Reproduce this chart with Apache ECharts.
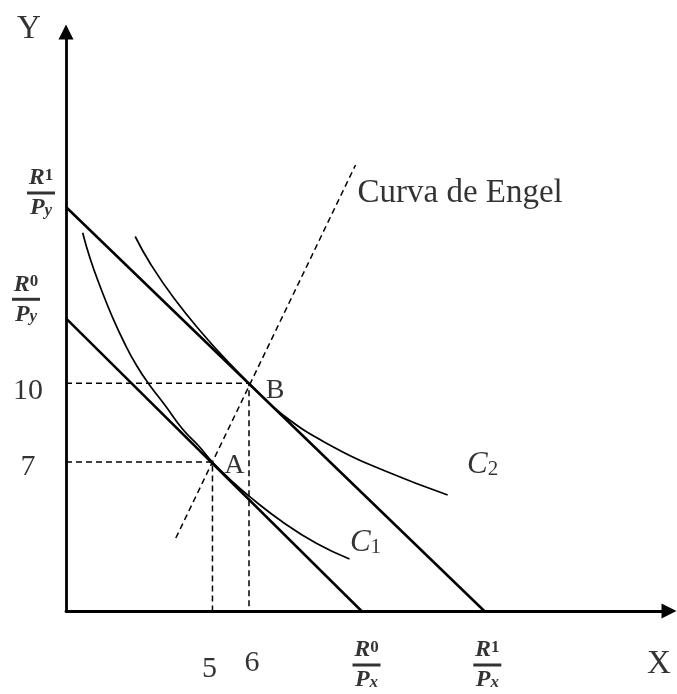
<!DOCTYPE html>
<html lang="es">
<head>
<meta charset="UTF-8">
<title>Curva de Engel</title>
<script src="https://cdn.jsdelivr.net/npm/echarts@6/dist/echarts.min.js"></script>
<style>
  html, body { margin: 0; padding: 0; background: #fff; }
  #main { width: 677px; height: 694px; }
</style>
</head>
<body>
<div id="main"></div>
<script>
  // unidades arbitrarias (1 unidad ~ 10 px), origen en la esquina de los ejes
  const budgetR0 = [[0, 29.27], [29.6, 0]];
  const budgetR1 = [[0, 40.4], [41.9, 0]];
  const engel = [[11.0, 7.3], [29.0, 44.6]];
  const pointA = [14.67, 14.9];
  const pointB = [18.33, 22.77];
  const curveC1 = [[1.67, 37.83], [2.4, 35.3], [3.4, 32.5], [4.6, 29.5], [5.9, 26.7], [7.1, 24.5],
                   [8.33, 22.65], [9.9, 20.6], [11.67, 18.2], [13.3, 16.5], [14.67, 14.9],
                   [16.5, 13.1], [18.4, 11.43], [21.7, 8.9], [25.07, 6.77], [28.4, 5.2]];
  const curveC2 = [[6.93, 37.45], [8.5, 34.65], [10.8, 31.3], [13.8, 27.6], [16.3, 24.85], [18.33, 22.77],
                   [21.73, 19.6], [26.73, 16.43], [31.73, 14.1], [38.23, 11.6]];
  const yTickLabels = ['10', '7'];   // en B y en A
  const xTickLabels = ['5', '6'];    // en A y en B
  const xMax = 60.4, yMax = 57.9;

  const chart = echarts.init(document.getElementById('main'));

  const serif = 'Liberation Serif';

  // fracción R/P con raya
  function fraction(sup, sub) {
    return {
      formatter: '{n|R}{sup|' + sup + '}\n{bar|}\n{d|P}{sub|' + sub + '}',
      rich: {
        n: { fontFamily: serif, fontSize: 24, fontWeight: 'bold', fontStyle: 'italic', lineHeight: 22, align: 'center', color: '#000' },
        sup: { fontFamily: serif, fontSize: 17, fontWeight: 'bold', lineHeight: 22, verticalAlign: 'top', align: 'center', color: '#000' },
        bar: { width: 28, height: 3, backgroundColor: '#000', lineHeight: 8, align: 'center' },
        d: { fontFamily: serif, fontSize: 24, fontWeight: 'bold', fontStyle: 'italic', lineHeight: 22, align: 'center', color: '#000' },
        sub: { fontFamily: serif, fontSize: 17, fontWeight: 'bold', fontStyle: 'italic', lineHeight: 22, verticalAlign: 'bottom', align: 'center', color: '#000' }
      }
    };
  }

  function plain(text, size) {
    return { formatter: text, fontFamily: serif, fontSize: size, color: '#000' };
  }

  function curveLabel(sub) {
    return {
      formatter: '{c|C}{s|' + sub + '}',
      rich: {
        c: { fontFamily: serif, fontSize: 31, fontStyle: 'italic', color: '#000', lineHeight: 30, verticalAlign: 'middle' },
        s: { fontFamily: serif, fontSize: 21, color: '#000', lineHeight: 30, verticalAlign: 'bottom' }
      }
    };
  }

  function tag(pt, label, offset) {
    return {
      value: pt,
      label: Object.assign({ show: true, position: 'inside', offset: offset }, label)
    };
  }

  const labels = [
    tag([0, yMax], plain('Y', 33), [-37, -3]),
    tag([xMax, 0], plain('X', 33), [-10, 53]),
    tag([0, pointB[1]], plain(yTickLabels[0], 30), [-38, 8]),
    tag([0, pointA[1]], plain(yTickLabels[1], 30), [-38, 5]),
    tag([pointA[0], 0], plain(xTickLabels[0], 30), [-3, 58]),
    tag([pointB[0], 0], plain(xTickLabels[1], 30), [3, 52]),
    tag(pointA, plain('A', 28), [22, 4]),
    tag(pointB, plain('B', 28), [26, 7]),
    tag(engel[1], Object.assign(plain('Curva de Engel', 33), { align: 'left' }), [2, 28]),
    tag(curveC1[curveC1.length - 1], curveLabel('1'), [16, -16]),
    tag(curveC2[curveC2.length - 1], curveLabel('2'), [35, -30]),
    tag(budgetR1[0], fraction('1', 'y'), [-25, -14]),
    tag(budgetR0[0], fraction('0', 'y'), [-40, -19]),
    tag(budgetR0[1], fraction('0', 'x'), [5, 54]),
    tag(budgetR1[1], fraction('1', 'x'), [3, 54])
  ];

  const dashed = { color: '#000', width: 1.5, type: [6, 4] };

  function lineSeries(data, style, smooth) {
    return {
      type: 'line',
      data: data,
      symbol: 'none',
      smooth: smooth || false,
      clip: false,
      silent: true,
      lineStyle: style
    };
  }

  const option = {
    animation: false,
    backgroundColor: '#fff',
    grid: { left: 66, right: 8, top: 32, bottom: 83 },
    xAxis: {
      type: 'value', min: 0, max: xMax,
      axisLine: { onZero: false, symbol: ['none', 'triangle'], symbolSize: [15, 15], lineStyle: { color: '#000', width: 2.8 } },
      axisTick: { show: false }, axisLabel: { show: false }, splitLine: { show: false }
    },
    yAxis: {
      type: 'value', min: 0, max: yMax,
      axisLine: { show: true, onZero: false, symbol: ['none', 'triangle'], symbolSize: [15, 15], lineStyle: { color: '#000', width: 2.8 } },
      axisTick: { show: false }, axisLabel: { show: false }, splitLine: { show: false }
    },
    series: [
      lineSeries(budgetR0, { color: '#000', width: 2.5 }),
      lineSeries(budgetR1, { color: '#000', width: 2.5 }),
      lineSeries(curveC1, { color: '#000', width: 1.7 }, 0.5),
      lineSeries(curveC2, { color: '#000', width: 1.7 }, 0.5),
      lineSeries(engel, dashed),
      lineSeries([[0, pointA[1]], pointA, [pointA[0], 0]], dashed),
      lineSeries([[0, pointB[1]], pointB, [pointB[0], 0]], dashed),
      {
        type: 'scatter',
        data: labels,
        symbolSize: 1,
        clip: false,
        silent: true,
        itemStyle: { color: 'rgba(0,0,0,0)' },
        z: 10
      }
    ]
  };

  chart.setOption(option);
</script>
</body>
</html>
